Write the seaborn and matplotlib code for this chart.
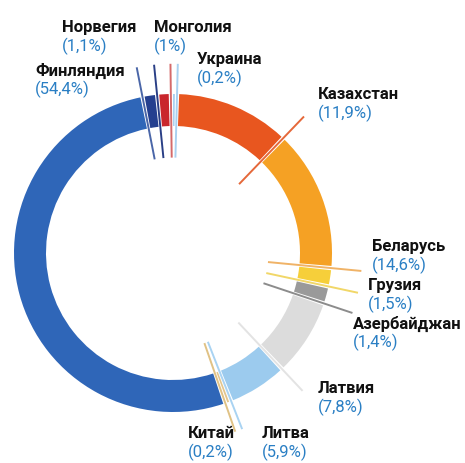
import numpy as np
import matplotlib
matplotlib.use("Agg")
import matplotlib.pyplot as plt
import seaborn as sns

# данные (по часовой стрелке от верхней точки)
countries = ["Украина", "Казахстан", "Беларусь", "Грузия", "Азербайджан",
             "Латвия", "Литва", "Китай", "Финляндия", "Норвегия", "Монголия"]
shares = [0.2, 11.9, 14.6, 1.5, 1.4, 7.8, 5.9, 0.2, 54.4, 1.1, 1.0]

wedge_colors = ["#a9d1f0", "#e8561f", "#f5a124", "#f6cf3a", "#9a9a9a",
                "#dcdcdc", "#9ccbee", "#e2c58d", "#2f66b8", "#243f8f", "#c9262c"]
line_colors = ["#a9d1f0", "#e5683a", "#f0b367", "#f1d768", "#8c8c8c",
               "#e3e3e3", "#a9d3f2", "#e0c285", "#4a66a8", "#2a3f86", "#d56a6a"]

# положение подписей (левый верхний угол, пиксели от верхнего края)
label_xy = {
    "Украина": (197, 52), "Казахстан": (318, 87), "Беларусь": (372, 239),
    "Грузия": (368, 278), "Азербайджан": (353, 316), "Латвия": (318, 381),
    "Литва": (262, 426), "Китай": (188, 426), "Финляндия": (35, 63),
    "Норвегия": (62, 20), "Монголия": (154, 20),
}

W, H = 465, 463
cx, cy = 173, H - 253
R, ring = 159, 32
gap = 0.45  # белый зазор между секторами

sns.set_theme(style="white")
plt.rcParams["font.family"] = ["Roboto", "DejaVu Sans"]

fig = plt.figure(figsize=(W / 100, H / 100), dpi=100)
ax = fig.add_axes([0, 0, 1, 1])

values, colors = [], []
for s, c in zip(shares, wedge_colors):
    values += [s, gap]
    colors += [c, (1, 1, 1, 0)]

wedges, _ = ax.pie(values, colors=colors, startangle=90, counterclock=False,
                   radius=R, center=(cx, cy),
                   wedgeprops=dict(width=ring, linewidth=0))

# разделительные линии в середине зазоров
for i, lc in enumerate(line_colors):
    w = wedges[2 * i + 1]
    th = np.deg2rad((w.theta1 + w.theta2) / 2)
    r = np.array([0.6, 1.19]) * R
    ax.plot(cx + r * np.cos(th), cy + r * np.sin(th), color=lc, lw=1.4,
            solid_capstyle="butt", zorder=3)

for name, s in zip(countries, shares):
    x, y = label_xy[name]
    pct = "(" + f"{s:g}".replace(".", ",") + "%)"
    ax.text(x, H - y, name, fontsize=12, fontweight="bold", color="#111111",
            ha="left", va="top")
    ax.text(x, H - y - 18, pct, fontsize=12, color="#2a7fc4",
            ha="left", va="top")

ax.set_xlim(0, W)
ax.set_ylim(0, H)
ax.set_aspect("auto")
ax.axis("off")

fig.savefig("out.png", dpi=100, facecolor="white")
